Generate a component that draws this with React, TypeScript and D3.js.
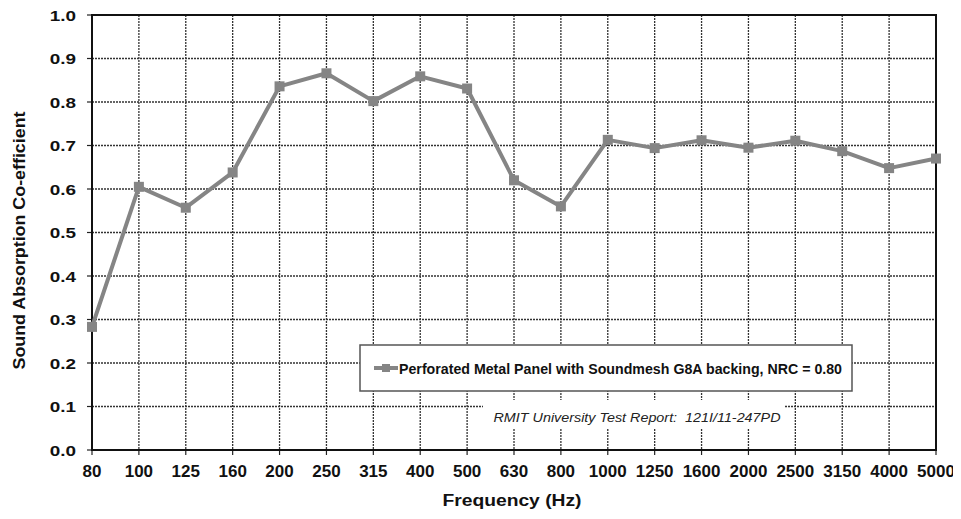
import * as d3 from 'd3';
import React, { useEffect, useRef } from 'react';

const frequencies = ['80', '100', '125', '160', '200', '250', '315', '400', '500', '630', '800', '1000', '1250', '1600', '2000', '2500', '3150', '4000', '5000'];
const absorption = [0.283, 0.605, 0.557, 0.638, 0.836, 0.866, 0.802, 0.859, 0.831, 0.62, 0.56, 0.713, 0.694, 0.712, 0.695, 0.711, 0.687, 0.648, 0.67];
const yTicks = [0, 0.1, 0.2, 0.3, 0.4, 0.5, 0.6, 0.7, 0.8, 0.9, 1.0];
const seriesName = 'Perforated Metal Panel with Soundmesh G8A backing, NRC = 0.80';
const reportNote = 'RMIT University Test Report:  121I/11-247PD';

const W = 961;
const H = 519;
const margin = { left: 92, right: 25, top: 15, bottom: 69 };
const font = '"Liberation Sans", Arial, sans-serif';

const SoundChart = () => {
  const svgRef = useRef(null);

  useEffect(() => {
    const svg = d3.select(svgRef.current);
    svg.selectAll('*').remove();

    const chartW = W - margin.left - margin.right;
    const chartH = H - margin.top - margin.bottom;

    const x = d3.scalePoint().domain(frequencies).range([0, chartW]).padding(0);
    const y = d3.scaleLinear().domain([0, 1]).range([chartH, 0]);

    const g = svg.append('g').attr('transform', `translate(${margin.left},${margin.top})`);

    // grid
    g.append('g')
      .selectAll('line')
      .data(yTicks)
      .enter()
      .append('line')
      .attr('x1', 0)
      .attr('x2', chartW)
      .attr('y1', (d) => y(d))
      .attr('y2', (d) => y(d))
      .attr('stroke', '#333')
      .attr('stroke-width', 1.3)
      .attr('stroke-dasharray', '2,1');

    g.append('g')
      .selectAll('line')
      .data(frequencies)
      .enter()
      .append('line')
      .attr('x1', (d) => x(d))
      .attr('x2', (d) => x(d))
      .attr('y1', 0)
      .attr('y2', chartH)
      .attr('stroke', '#333')
      .attr('stroke-width', 1.3)
      .attr('stroke-dasharray', '2,1');

    // ticks
    g.append('g')
      .selectAll('line')
      .data(yTicks)
      .enter()
      .append('line')
      .attr('x1', -5)
      .attr('x2', 0)
      .attr('y1', (d) => y(d))
      .attr('y2', (d) => y(d))
      .attr('stroke', '#222')
      .attr('stroke-width', 1.2);

    g.append('g')
      .selectAll('line')
      .data(frequencies)
      .enter()
      .append('line')
      .attr('x1', (d) => x(d))
      .attr('x2', (d) => x(d))
      .attr('y1', chartH)
      .attr('y2', chartH + 5)
      .attr('stroke', '#222')
      .attr('stroke-width', 1.2);

    // frame
    g.append('rect')
      .attr('x', 0)
      .attr('y', 0)
      .attr('width', chartW)
      .attr('height', chartH)
      .attr('fill', 'none')
      .attr('stroke', '#111')
      .attr('stroke-width', 2);

    // tick labels
    g.append('g')
      .selectAll('text')
      .data(yTicks)
      .enter()
      .append('text')
      .attr('transform', (d) => `translate(-16,${y(d) + 5.5}) scale(1.22,1)`)
      .attr('text-anchor', 'end')
      .style('font-family', font)
      .style('font-weight', 'bold')
      .style('font-size', '15.5px')
      .style('fill', '#111')
      .text((d) => d.toFixed(1));

    g.append('g')
      .selectAll('text')
      .data(frequencies)
      .enter()
      .append('text')
      .attr('x', (d) => x(d) as number)
      .attr('y', chartH + 27)
      .attr('text-anchor', 'middle')
      .style('font-family', font)
      .style('font-weight', 'bold')
      .style('font-size', '17px')
      .style('fill', '#111')
      .text((d) => d);

    // legend box
    const legend = g.append('g').attr('transform', `translate(${360 - margin.left},${345 - margin.top})`);
    legend
      .append('rect')
      .attr('width', 492)
      .attr('height', 46)
      .attr('fill', '#fff')
      .attr('stroke', '#555')
      .attr('stroke-width', 1.5);
    legend
      .append('line')
      .attr('x1', 14)
      .attr('x2', 38)
      .attr('y1', 23)
      .attr('y2', 23)
      .attr('stroke', '#858585')
      .attr('stroke-width', 4);
    legend
      .append('rect')
      .attr('x', 22)
      .attr('y', 19)
      .attr('width', 8)
      .attr('height', 8)
      .attr('fill', '#858585');
    legend
      .append('text')
      .attr('x', 39)
      .attr('y', 28.5)
      .attr('textLength', 443)
      .attr('lengthAdjust', 'spacingAndGlyphs')
      .style('font-family', font)
      .style('font-weight', 'bold')
      .style('font-size', '14.5px')
      .style('fill', '#111')
      .text(seriesName);

    // report note
    g.append('rect')
      .attr('x', 483 - margin.left)
      .attr('y', 400 - margin.top)
      .attr('width', 302)
      .attr('height', 28)
      .attr('fill', '#fff');
    g.append('text')
      .attr('x', 637 - margin.left)
      .attr('y', 422 - margin.top)
      .attr('text-anchor', 'middle')
      .attr('textLength', 287)
      .attr('lengthAdjust', 'spacingAndGlyphs')
      .style('white-space', 'pre')
      .style('font-family', font)
      .style('font-style', 'italic')
      .style('font-size', '13.5px')
      .style('fill', '#222')
      .text(reportNote);

    // series
    const line = d3
      .line<number>()
      .x((_, i) => x(frequencies[i]) as number)
      .y((d) => y(d));

    g.append('path')
      .datum(absorption)
      .attr('d', line)
      .attr('fill', 'none')
      .attr('stroke', '#858585')
      .attr('stroke-width', 4)
      .attr('stroke-linejoin', 'round');

    g.append('g')
      .selectAll('rect')
      .data(absorption)
      .enter()
      .append('rect')
      .attr('x', (_, i) => (x(frequencies[i]) as number) - 5)
      .attr('y', (d) => y(d) - 5)
      .attr('width', 10)
      .attr('height', 10)
      .attr('fill', '#858585');

    // axis titles
    svg
      .append('text')
      .attr('transform', `translate(25,${margin.top + chartH / 2 + 8}) rotate(-90)`)
      .attr('text-anchor', 'middle')
      .attr('textLength', 258)
      .attr('lengthAdjust', 'spacingAndGlyphs')
      .style('font-family', font)
      .style('font-weight', 'bold')
      .style('font-size', '16px')
      .style('fill', '#111')
      .text('Sound Absorption Co-efficient');

    svg
      .append('text')
      .attr('x', 512)
      .attr('y', 506)
      .attr('text-anchor', 'middle')
      .attr('textLength', 139)
      .attr('lengthAdjust', 'spacingAndGlyphs')
      .style('font-family', font)
      .style('font-weight', 'bold')
      .style('font-size', '16px')
      .style('fill', '#111')
      .text('Frequency (Hz)');
  }, []);

  return <svg ref={svgRef} width={W} height={H} style={{ display: 'block' }} />;
};

export default function App() {
  return (
    <div style={{ margin: -8, background: '#fff' }}>
      <SoundChart />
    </div>
  );
}
